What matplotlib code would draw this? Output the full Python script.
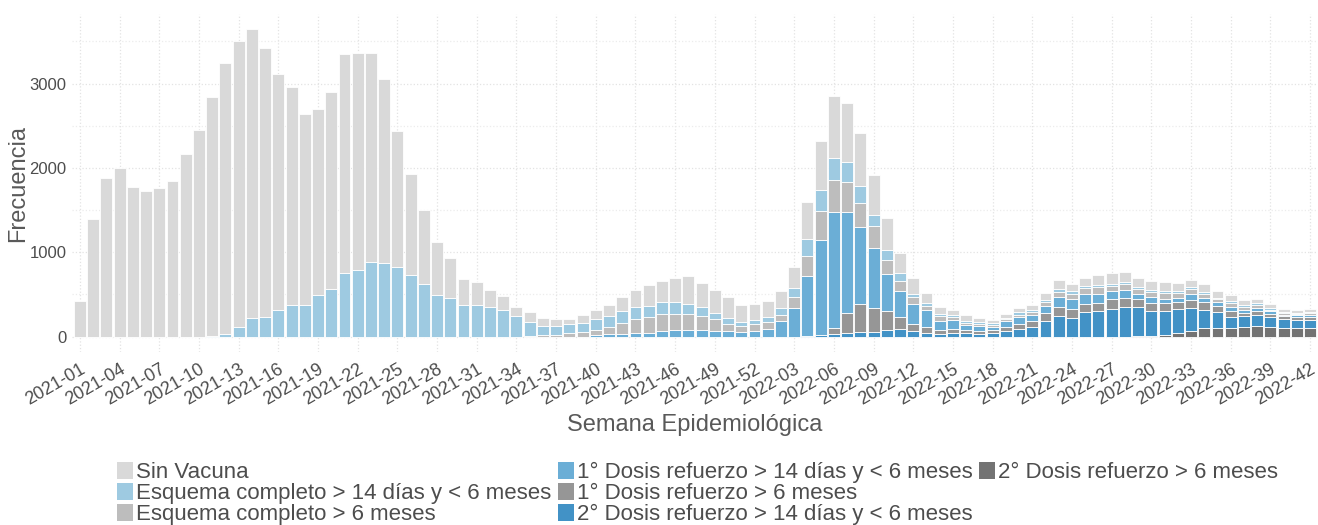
import numpy as np
import matplotlib.pyplot as plt
from matplotlib.patches import Patch

# semanas epidemiologicas: 2021-01 .. 2021-52, 2022-01 .. 2022-42
semanas = ['2021-%02d' % w for w in range(1, 53)] + ['2022-%02d' % w for w in range(1, 43)]

sin_vacuna = [420, 1395, 1885, 1995, 1775, 1725, 1760, 1840, 2165, 2450,
              2840, 3213, 3396, 3423, 3186, 2795, 2594, 2266, 2203, 2341,
              2602, 2578, 2480, 2191, 1619, 1200, 880, 631, 469, 309,
              272, 205, 162, 107, 111, 95, 80, 67, 95, 107,
              130, 170, 197, 249, 249, 293, 332, 284, 268, 249,
              201, 193, 186, 211, 247, 439, 573, 735, 700, 628,
              470, 379, 237, 198, 127, 91, 59, 63, 43, 36,
              42, 55, 63, 81, 107, 90, 99, 114, 131, 115,
              107, 103, 106, 91, 83, 95, 83, 71, 60, 52,
              51, 40, 35, 36]

esq_14d = [0] * 10 + [
    5, 32, 114, 221, 237, 316, 371, 371, 493, 565,
    754, 790, 880, 869, 825, 734, 624, 490, 460, 375,
    372, 352, 320, 245, 170, 106, 106, 103, 107, 134,
    134, 142, 146, 135, 138, 134, 118, 111, 75, 67,
    48, 48, 55, 77, 99, 200, 249, 261, 237, 202,
    135, 115, 95, 36, 27, 24, 25, 24, 20, 16,
    19, 28, 25, 26, 29, 26, 28, 24, 23, 20,
    24, 23, 20, 31, 24, 16, 15, 20, 19, 23,
    22, 14, 16, 21]

esq_6m = [0] * 34 + [
    8, 20, 20, 43, 55, 59,
    83, 126, 163, 186, 202, 198, 190, 162, 143, 87,
    71, 83, 87, 77, 136, 239, 348, 386, 360, 285,
    261, 166, 118, 79, 52, 51, 30, 28, 24, 23,
    20, 24, 34, 45, 66, 65, 71, 87, 63, 75,
    55, 64, 67, 59, 59, 48, 40, 47, 36, 32,
    18, 16, 13, 17]

ref1_14d = [0] * 39 + [
    16,
    28, 32, 43, 43, 71, 75, 75, 79, 63, 67,
    55, 67, 91, 182, 340, 715, 1130, 1369, 1197, 913,
    711, 439, 305, 233, 197, 111, 107, 59, 59, 40,
    73, 81, 71, 89, 122, 115, 119, 103, 99, 91,
    63, 63, 56, 40, 67, 47, 39, 48, 35, 40,
    32, 22, 22, 22]

ref1_6m = [0] * 57 + [
    79, 237, 328,
    281, 225, 146, 87, 72, 47, 44, 32, 39, 39,
    42, 67, 65, 97, 99, 105, 94, 103, 115, 114,
    91, 103, 95, 91, 103, 99, 79, 71, 40, 39,
    31, 34, 32, 34]

ref2_14d = [0] * 55 + [
    8, 16, 28, 40, 59,
    59, 79, 87, 67, 47, 32, 47, 47, 32, 40,
    71, 87, 117, 182, 247, 225, 289, 300, 328, 348,
    340, 288, 284, 281, 269, 217, 186, 126, 134, 131,
    122, 99, 91, 95]

ref2_6m = [0] * 80 + [
    12, 12, 16, 43, 67, 99, 103, 107, 111, 130,
    115, 107, 107, 107]

etiquetas = ['Sin Vacuna',
             'Esquema completo > 14 días y < 6 meses',
             'Esquema completo > 6 meses',
             '1° Dosis refuerzo > 14 días y < 6 meses',
             '1° Dosis refuerzo > 6 meses',
             '2° Dosis refuerzo > 14 días y < 6 meses',
             '2° Dosis refuerzo > 6 meses']
colores = ['#d9d9d9', '#9ecae1', '#bdbdbd', '#6baed6', '#969696', '#4292c6', '#737373']


def main():
    plt.rcParams['font.family'] = ['Liberation Sans', 'DejaVu Sans']
    series = [sin_vacuna, esq_14d, esq_6m, ref1_14d, ref1_6m, ref2_14d, ref2_6m]

    fig = plt.figure(figsize=(13.18, 5.25), dpi=100)
    ax = fig.add_axes([72 / 1318, 1 - 352 / 525, 1246 / 1318, 338 / 525])

    x = np.arange(len(semanas))
    bottom = np.zeros(len(semanas))
    # stack from the bottom (last legend entry) upwards
    for vals, col in reversed(list(zip(series, colores))):
        vals = np.array(vals, dtype=float)
        ax.bar(x, vals, width=0.9, bottom=bottom, color=col,
               edgecolor='white', linewidth=0.6, zorder=2)
        bottom += vals

    ax.set_xlim(-0.6, len(semanas) - 0.4)
    ax.set_ylim(-182, 3826)
    ax.set_yticks([0, 1000, 2000, 3000])
    ax.set_yticks([500, 1500, 2500, 3500], minor=True)
    ax.set_xticks(x[::3])
    ax.set_xticklabels(semanas[::3], rotation=30, ha='right',
                       rotation_mode='anchor')
    ax.tick_params(axis='x', length=0, pad=6, labelsize=13, labelcolor='#4d4d4d')
    ax.tick_params(axis='y', which='both', length=0, pad=4, labelsize=12,
                   labelcolor='#4d4d4d')
    ax.grid(True, which='major', color='#e3e3e3', linestyle=':', linewidth=0.9, zorder=0)
    ax.grid(True, which='minor', axis='y', color='#ececec', linestyle=':',
            linewidth=0.9, zorder=0)
    for s in ax.spines.values():
        s.set_visible(False)

    ax.set_xlabel('Semana Epidemiológica', fontsize=17, color='#595959', labelpad=4)
    ax.set_ylabel('Frecuencia', fontsize=17, color='#595959', labelpad=0)

    handles = [Patch(facecolor=c, edgecolor='none') for c in colores]
    labels = list(etiquetas)
    handles += [Patch(visible=False), Patch(visible=False)]
    labels += ['', '']
    fig.legend(handles, labels, ncol=3, loc='upper left',
               bbox_to_anchor=(117 / 1318, 1 - 462 / 525),
               frameon=False, fontsize=16, labelcolor='#4d4d4d',
               handlelength=0.72, handleheight=0.77, handletextpad=0.15,
               columnspacing=0.27, labelspacing=0.0, borderpad=0,
               borderaxespad=0)

    fig.savefig('out.png', dpi=100, facecolor='white')


if __name__ == '__main__':
    main()
